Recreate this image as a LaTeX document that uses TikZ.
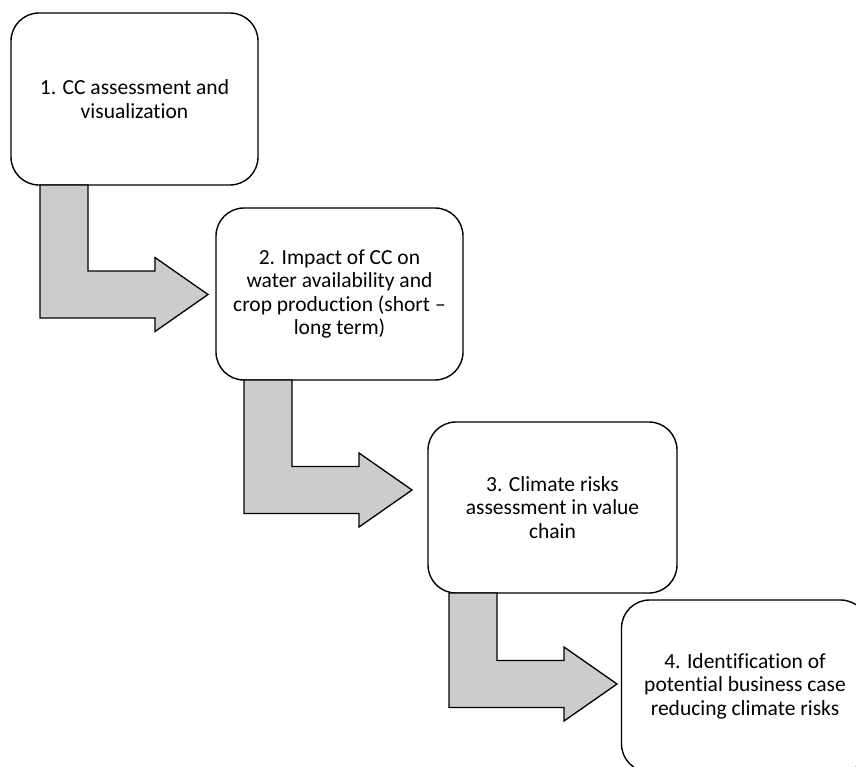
\documentclass[tikz,border=0pt]{standalone}
\usepackage{fontspec}
\setmainfont{Carlito}[Ligatures=NoCommon]
\definecolor{arrowgray}{RGB}{204,204,204}
% L-shaped block arrow leaving the bottom of a stage box:
% #1 source node, #2 bar offset from its left edge, #3 drop to the arm's centre line,
% #4 name given to the arrow's tip
\newcommand\stagearrow[4]{%
  \filldraw[elbow] ([xshift=#2pt]#1.south west)
    -- ++(0,{#3+23.5}) -- ++(115,0) -- ++(0,13.5)
    -- ++(53,-37) coordinate (#4)
    -- ++(-53,-37) -- ++(0,13.5) -- ++(-67,0)
    -- ++(0,{-(#3-23.5)}) -- cycle;}
\begin{document}
\begin{tikzpicture}[x=1pt,y=-1pt,
  stage/.style={draw=black, line width=1.4pt, rounded corners=28pt, fill=white,
    minimum width=247pt, minimum height=172pt, inner sep=0pt, outer sep=0pt,
    align=center, font=\fontsize{21.5pt}{23.5pt}\selectfont},
  elbow/.style={draw=black, line width=1.3pt, fill=arrowgray, line join=miter}]
\useasboundingbox (0,0) rectangle (856,767);
\clip (0,0) rectangle (856,767);

\node[stage] (b1) at (134.5,99) {1. CC assessment and\\visualization};
\node[stage] (b2) at (339.5,294) {2. Impact of CC on\\water availability and\\crop production (short –\\long term)};
\node[stage, minimum width=249pt, minimum height=171pt] (b3) at (552.5,507.5)
  {3. Climate risks\\assessment in value\\chain};
\node[stage, minimum width=247pt] (b4) at (745,686)
  {4. Identification of\\potential business case\\reducing climate risks};

\stagearrow{b1}{29}{109.5}{t1}
\stagearrow{b2}{28}{110}{t2}
\stagearrow{b3}{21}{91}{t3}
\end{tikzpicture}
\end{document}
